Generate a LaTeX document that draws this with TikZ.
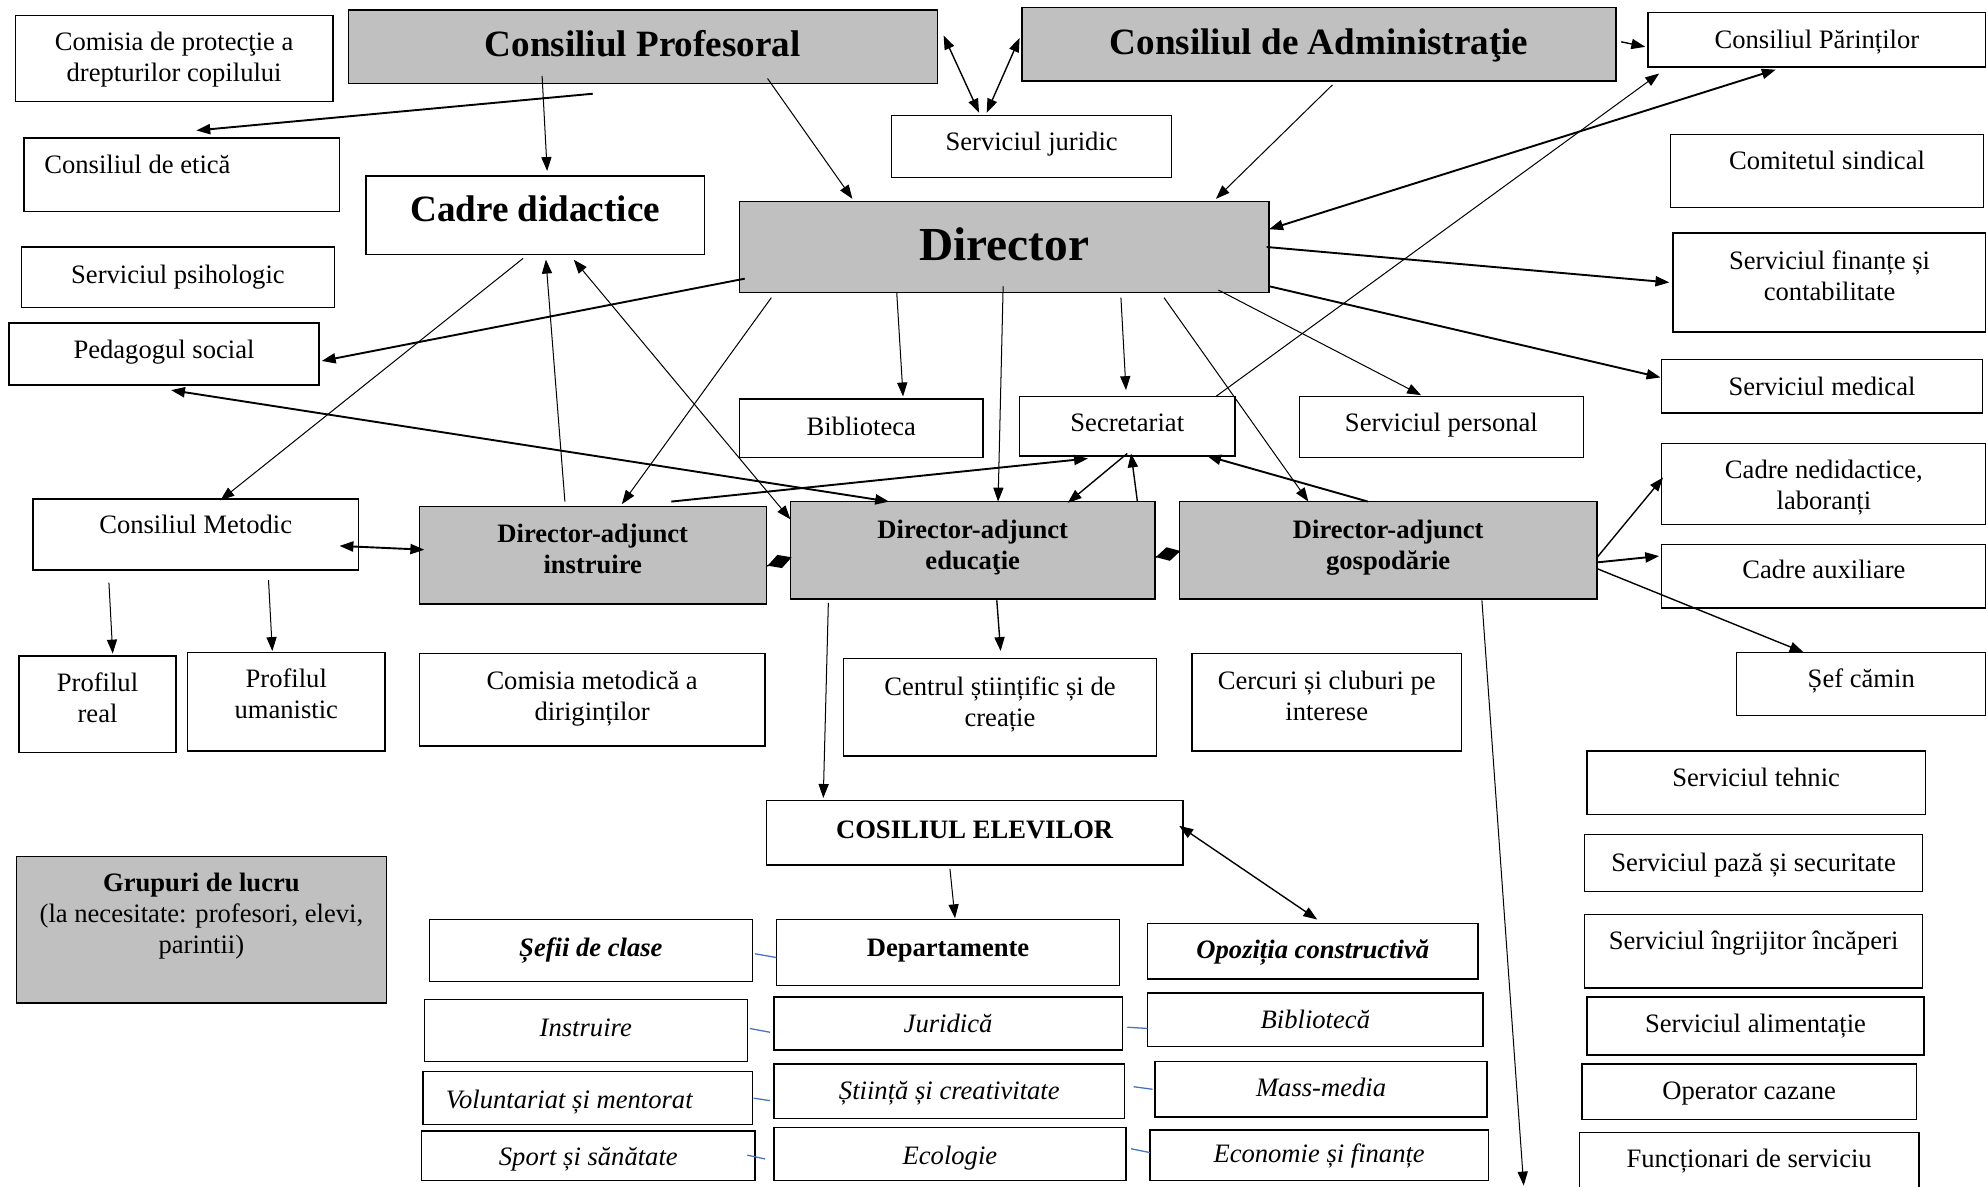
\documentclass[tikz,border=0pt]{standalone}
\usepackage{fontspec}
\setmainfont{Liberation Serif}
\usetikzlibrary{arrows.meta}
\definecolor{gr}{RGB}{192,192,192}
\definecolor{bluelk}{RGB}{68,114,196}
% #1 style, #2 name, #3 x1, #4 y1, #5 x2, #6 y2, #7 first baseline y, #8 text
\newcommand\bx[8]{\node[#1] (#2) at ({(#3+#5)/2},{(#4+#6)/2}) {\parbox[c][\dimexpr#6pt-#4pt\relax][t]{\dimexpr#5pt-#3pt\relax}{\centering\rule{0pt}{\dimexpr#7pt-#4pt\relax}#8\par}};}
\newcommand\bigb{\fontsize{29.3}{32}\selectfont\bfseries}
\begin{document}
\begin{tikzpicture}[x=1pt,y=-1pt,>={Triangle[length=11pt,width=8pt]},
  box/.style={draw,line width=1.1pt,fill=white,inner sep=0pt,outer sep=0pt,font=\fontsize{21}{24.5}\selectfont},
  gbox/.style={box,fill=gr},
  lnthin/.style={line width=0.8pt},
  lnmed/.style={line width=1.1pt},
  lnthick/.style={line width=1.5pt},
  bluelink/.style={draw=bluelk,line width=1pt}]
\useasboundingbox (0,0) rectangle (1568,937);
\fill[white] (0,0) rectangle (1568,937);
% boxes
\bx{box}{comisia}{12}{12}{263}{80}{40}{Comisia de protecţie a\\drepturilor copilului}
\bx{gbox}{cprof}{275}{8}{740}{66}{45}{\bigb Consiliul Profesoral}
\bx{gbox}{cadm}{807}{6}{1276}{64}{43}{\bigb Consiliul de Administraţie}
\bx{box}{cpar}{1301}{10}{1568}{53}{38}{Consiliul Părinților}
\bx{box}{juridic}{704}{91}{925}{140}{119}{Serviciul juridic}
\bx{box}{etica}{19}{109}{268}{167}{137}{\raggedright\hspace*{16pt}Consiliul de etică}
\bx{box}{cadre}{289}{139}{556}{201}{175}{\bigb Cadre didactice}
\bx{gbox}{director}{584}{159}{1002}{231}{206}{\fontsize{37.4}{40}\selectfont\bfseries Director}
\bx{box}{sindical}{1319}{106}{1566}{164}{134}{Comitetul sindical}
\bx{box}{psiho}{17}{195}{264}{243}{224}{Serviciul psihologic}
\bx{box}{pedag}{7}{255}{252}{304}{283}{Pedagogul social}
\bx{box}{finante}{1321}{184}{1568}{262}{213}{Serviciul finanțe și\\contabilitate}
\bx{box}{medical}{1312}{284}{1565}{326}{312}{Serviciul medical}
\bx{box}{biblio}{584}{315}{776}{361}{344}{Biblioteca}
\bx{box}{secret}{805}{313}{975}{360}{341}{Secretariat}
\bx{box}{personal}{1026}{313}{1250}{361}{341}{Serviciul personal}
\bx{box}{cmetodic}{26}{394}{283}{450}{421}{Consiliul Metodic}
\bx{gbox}{dainstr}{331}{400}{605}{477}{428}{\bfseries Director-adjunct\\instruire}
\bx{gbox}{daeduc}{624}{396}{912}{473}{425}{\bfseries Director-adjunct\\educaţie}
\bx{gbox}{dagosp}{931}{396}{1261}{473}{425}{\bfseries Director-adjunct\\gospodărie}
\bx{box}{nedid}{1312}{350}{1568}{414}{378}{Cadre nedidactice,\\laboranți}
\bx{box}{aux}{1312}{430}{1568}{480}{457}{Cadre auxiliare}
\bx{box}{sefcamin}{1371}{515}{1568}{565}{543}{Șef cămin}
\bx{box}{preal}{15}{518}{139}{594}{546}{Profilul\\real}
\bx{box}{puman}{148}{515}{304}{593}{543}{Profilul\\umanistic}
\bx{box}{comdirig}{331}{516}{604}{589}{544}{Comisia metodică a\\diriginților}
\bx{box}{centrul}{666}{520}{913}{597}{549}{Centrul științific și de\\creație}
\bx{box}{cercuri}{941}{516}{1154}{593}{544}{Cercuri și cluburi pe\\interese}
\bx{box}{tehnic}{1253}{593}{1520}{643}{621}{Serviciul tehnic}
\bx{box}{celevi}{605}{632}{934}{683}{662}{\bfseries COSILIUL ELEVILOR}
\bx{box}{paza}{1251}{659}{1518}{704}{688}{Serviciul pază și securitate}
\bx{gbox}{grupuri}{13}{676}{305}{792}{704}{{\bfseries Grupuri de lucru}\\(la necesitate: profesori, elevi,\\parintii)}
\bx{box}{ingrij}{1251}{722}{1518}{780}{750}{Serviciul îngrijitor încăperi}
\bx{box}{sefii}{339}{726}{594}{775}{755}{\bfseries\itshape Șefii de clase}
\bx{box}{depart}{613}{726}{884}{778}{755}{\bfseries Departamente}
\bx{box}{opoz}{906}{729}{1167}{773}{757}{\bfseries\itshape Opoziția constructivă}
\bx{box}{aliment}{1253}{787}{1519}{833}{815}{Serviciul alimentație}
\bx{box}{instr}{335}{789}{590}{838}{818}{\itshape Instruire}
\bx{box}{jurid}{611}{787}{886}{829}{815}{\itshape Juridică}
\bx{box}{bibl2}{906}{784}{1171}{826}{812}{\itshape Bibliotecă}
\bx{box}{cazane}{1249}{840}{1513}{884}{868}{Operator cazane}
\bx{box}{volunt}{334}{846}{594}{888}{875}{\raggedright\hspace*{18pt}\itshape Voluntariat și mentorat}
\bx{box}{stiinta}{611}{840}{888}{883}{868}{\itshape Știință și creativitate}
\bx{box}{mass}{912}{838}{1174}{882}{866}{\itshape Mass-media}
\bx{box}{functionari}{1247}{894}{1515}{946}{922}{Funcționari de serviciu}
\bx{box}{sport}{333}{893}{596}{932}{920}{\itshape Sport și sănătate}
\bx{box}{ecolog}{611}{890}{889}{932}{919}{\itshape Ecologie}
\bx{box}{economie}{908}{892}{1175}{932}{918}{\itshape Economie și finanțe}
\coordinate (bottomend) at (1203,936);
% connectors
\draw[lnthick,->] ([shift={(193,66)}]cprof.north west) -- ([shift={(136,-6)}]etica.north west);
\draw[lnthin,->] ([shift={(153,52)}]cprof.north west) -- ([shift={(143,-4)}]cadre.north west);
\draw[lnthin,->] ([shift={(331,54)}]cprof.north west) -- ([shift={(89,-2)}]director.north west);
\draw[lnmed,<->] ([shift={(470,20)}]cprof.north west) -- ([shift={(69,-2)}]juridic.north west);
\draw[lnmed,<->] ([shift={(-2,24)}]cadm.north west) -- ([shift={(75,-2)}]juridic.north west);
\draw[lnmed,->] ([shift={(473,27)}]cadm.north west) -- ([shift={(-2,27)}]cpar.north west);
\draw[lnthin,->] ([shift={(245,61)}]cadm.north west) -- ([shift={(376,-2)}]director.north west);
\draw[lnthick,<->] ([shift={(418,22)}]director.north west) -- ([shift={(101,45)}]cpar.north west);
\draw[lnthin,->] ([shift={(155,0)}]secret.north west) -- ([shift={(9,48)}]cpar.north west);
\draw[lnthick,->] ([shift={(416,36)}]director.north west) -- ([shift={(-3,39)}]finante.north west);
\draw[lnthick,->] ([shift={(418,67)}]director.north west) -- ([shift={(-1,14)}]medical.north west);
\draw[lnthin,->] ([shift={(378,70)}]director.north west) -- ([shift={(96,-1)}]personal.north west);
\draw[lnthin,->] ([shift={(335,76)}]director.north west) -- ([shift={(102,0)}]dagosp.north west);
\draw[lnthin,->] ([shift={(301,76)}]director.north west) -- ([shift={(84,-5)}]secret.north west);
\draw[lnthin,->] ([shift={(208,67)}]director.north west) -- ([shift={(164,0)}]daeduc.north west);
\draw[lnthin,->] ([shift={(124,72)}]director.north west) -- ([shift={(129,-2)}]biblio.north west);
\draw[lnthin,->] ([shift={(25,76)}]director.north west) -- ([shift={(160,-2)}]dainstr.north west);
\draw[lnthick,->] ([shift={(4,61)}]director.north west) -- ([shift={(247,30)}]pedag.north west);
\draw[lnthin,<->] ([shift={(0,14)}]daeduc.north west) -- ([shift={(164,66)}]cadre.north west);
\draw[lnthin,->] ([shift={(115,-4)}]dainstr.north west) -- ([shift={(142,66)}]cadre.north west);
\draw[lnthin,->] ([shift={(124,65)}]cadre.north west) -- ([shift={(148,1)}]cmetodic.north west);
\draw[lnthick,<->] ([shift={(78,0)}]daeduc.north west) -- ([shift={(128,53)}]pedag.north west);
\draw[lnthick,->] ([shift={(199,-4)}]dainstr.north west) -- ([shift={(54,49)}]secret.north west);
\draw[lnmed,<-] ([shift={(219,1)}]daeduc.north west) -- ([shift={(85,45)}]secret.north west);
\draw[lnmed,->] ([shift={(274,0)}]daeduc.north west) -- ([shift={(88,45)}]secret.north west);
\draw[lnthick,->] ([shift={(149,0)}]dagosp.north west) -- ([shift={(148,47)}]secret.north west);
\draw[lnthick,<->] ([shift={(242,37)}]cmetodic.north west) -- ([shift={(4,34)}]dainstr.north west);
\draw[lnthin,->] ([shift={(60,66)}]cmetodic.north west) -- ([shift={(74,-2)}]preal.north west);
\draw[lnthin,->] ([shift={(186,64)}]cmetodic.north west) -- ([shift={(67,-1)}]puman.north west);
\draw[lnmed,-{Diamond[length=20pt,width=11pt]}] ([shift={(274,47)}]dainstr.north west) -- ([shift={(1,44)}]daeduc.north west);
\draw[lnmed,-{Diamond[length=20pt,width=11pt]}] ([shift={(288,44)}]daeduc.north west) -- ([shift={(1,39)}]dagosp.north west);
\draw[lnthin,->] ([shift={(30,80)}]daeduc.north west) -- ([shift={(45,-2)}]celevi.north west);
\draw[lnmed,->] ([shift={(163,78)}]daeduc.north west) -- ([shift={(124,-6)}]centrul.north west);
\draw[lnthin,->] ([shift={(239,78)}]dagosp.north west) -- (bottomend);
\draw[lnmed,->] ([shift={(330,44)}]dagosp.north west) -- ([shift={(1,27)}]nedid.north west);
\draw[lnthick,->] ([shift={(330,48)}]dagosp.north west) -- ([shift={(-2,9)}]aux.north west);
\draw[lnmed,->] ([shift={(330,53)}]dagosp.north west) -- ([shift={(53,0)}]sefcamin.north west);
\draw[lnthin,->] ([shift={(145,54)}]celevi.north west) -- ([shift={(141,-1)}]depart.north west);
\draw[lnmed,<->] ([shift={(326,20)}]celevi.north west) -- ([shift={(134,-3)}]opoz.north west);
% blue links
\draw[bluelink] ([shift={(257,27)}]sefii.north west) -- ([shift={(0,30)}]depart.north west);
\draw[bluelink] ([shift={(257,23)}]instr.north west) -- ([shift={(-3,28)}]jurid.north west);
\draw[bluelink] ([shift={(279,24)}]jurid.north west) -- ([shift={(0,28)}]bibl2.north west);
\draw[bluelink] ([shift={(261,21)}]volunt.north west) -- ([shift={(-3,29)}]stiinta.north west);
\draw[bluelink] ([shift={(284,18)}]stiinta.north west) -- ([shift={(-2,22)}]mass.north west);
\draw[bluelink] ([shift={(257,19)}]sport.north west) -- ([shift={(-7,25)}]ecolog.north west);
\draw[bluelink] ([shift={(282,17)}]ecolog.north west) -- ([shift={(0,18)}]economie.north west);
\end{tikzpicture}
\end{document}
